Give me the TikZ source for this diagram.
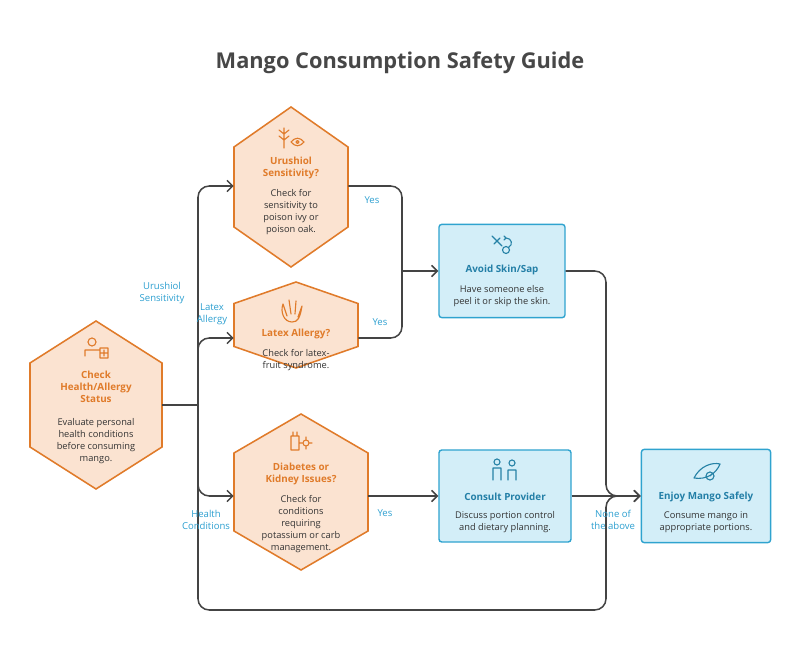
\documentclass[tikz,border=0pt]{standalone}
\usepackage{fontspec}
\setmainfont{Open Sans}
\usetikzlibrary{positioning,calc,arrows.meta}
\definecolor{hexfill}{HTML}{FBE3D1}
\definecolor{hexline}{HTML}{E07B2A}
\definecolor{boxfill}{HTML}{D3EEF8}
\definecolor{boxline}{HTML}{2FA3CF}
\definecolor{linkcol}{HTML}{444444}
\definecolor{labcol}{HTML}{2C9FD0}
\definecolor{txtcol}{HTML}{333333}

\tikzset{
  hexbg/.style={draw=hexline, fill=hexfill, line width=1.1pt},
  hexnode/.style={rectangle, inner sep=0pt, align=center, text=txtcol, font=\fontsize{6.6}{8.6}\selectfont},
  head/.style={inner sep=0pt, align=center, font=\fontsize{7}{8.6}\selectfont\bfseries},
  box/.style={rectangle, rounded corners=2pt, draw=boxline, fill=boxfill, line width=1pt, align=center, inner sep=0pt},
  link/.style={draw=linkcol, line width=1.1pt, rounded corners=8pt},
  arrow/.style={link, -{Straight Barb[length=4pt,width=8pt]}},
  lab/.style={text=labcol, align=center, font=\fontsize{6.8}{8.6}\selectfont},
  icon/.style={draw=hexline, line width=0.8pt, line cap=round, line join=round},
  bicon/.style={draw=boxline!80!black, line width=0.8pt, line cap=round, line join=round}
}
% hexagon: center x, center y, half width, half height
\newcommand{\hexa}[4]{\path[hexbg] (#1,#2-#4) -- (#1+#3,#2-#4/2) -- (#1+#3,#2+#4/2) -- (#1,#2+#4) -- (#1-#3,#2+#4/2) -- (#1-#3,#2-#4/2) -- cycle;}

\begin{document}
\begin{tikzpicture}[x=0.025cm, y=-0.025cm]
    \useasboundingbox (0,0) rectangle (801,661);

    \node (title) at (400,63) {\fontsize{15.5}{18}\selectfont\bfseries\color{txtcol!90!white}Mango Consumption Safety Guide};

    % hexagons
    \hexa{96}{405}{66}{84}
    \hexa{291}{187}{57}{80}
    \hexa{296}{325}{62}{43}
    \hexa{301}{492}{67}{78}

    \node (check) [hexnode, minimum width=3.3cm, minimum height=2cm] at (96,405) {};
    \node[head, text=hexline] at (96,387) {Check\\Health/Allergy\\Status};
    \node [hexnode] at (96,441) {Evaluate personal\\health conditions\\before consuming\\mango.};

    \node (urushiol) [hexnode, minimum width=2.85cm, minimum height=2cm] at (291,186) {};
    \node[head, text=hexline] at (291,168) {Urushiol\\Sensitivity?};
    \node [hexnode] at (291,212) {Check for\\sensitivity to\\poison ivy or\\poison oak.};

    \node (latex) [hexnode, minimum width=3.1cm, minimum height=1.2cm] at (296,338) {};
    \node[head, text=hexline] at (296,334) {Latex Allergy?};
    \node [hexnode] at (296,360) {Check for latex-\\fruit syndrome.};

    \node (diabetes) [hexnode, minimum width=3.35cm, minimum height=2cm] at (301,496) {};
    \node[head, text=hexline] at (301,474) {Diabetes or\\Kidney Issues?};
    \node [hexnode] at (301,524) {Check for\\conditions\\requiring\\potassium or carb\\management.};

    % boxes
    \node (avoid) [box, minimum width=3.15cm, minimum height=2.33cm] at (502,271) {};
    \node[head, text=labcol!80!black] at (502,270) {Avoid Skin/Sap};
    \node [hexnode] at (502,296) {Have someone else\\peel it or skip the skin.};

    \node (consult) [box, minimum width=3.3cm, minimum height=2.3cm] at (505,496) {};
    \node[head, text=labcol!80!black] at (505,497) {Consult Provider};
    \node [hexnode] at (505,522) {Discuss portion control\\and dietary planning.};

    \node (enjoy) [box, minimum width=3.23cm, minimum height=2.33cm] at (706,496) {};
    \node[head, text=labcol!80!black] at (706,497) {Enjoy Mango Safely};
    \node [hexnode] at (706,522) {Consume mango in\\appropriate portions.};

    % icons
    \draw[icon] (92,342) circle (4) (85,356) -- (85,350) -- (99,350) (100,348) rectangle (108,358) (104,350) -- (104,356) (101,353) -- (107,353);
    \draw[icon] (284,128) -- (284,148) (284,134) -- (279,130) (284,140) -- (279,136) (284,134) -- (289,130) (284,140) -- (289,136) (291,142) .. controls (295,137) and (300,137) .. (304,142) .. controls (300,147) and (295,147) .. (291,142) (297.5,142) circle (1.5);
    \draw[icon] (287,316) -- (283,304) (291,314) -- (289,300) (295,314) -- (296,301) (298,317) -- (302,306) (283,304) .. controls (280,312) and (284,322) .. (292,322) .. controls (298,322) and (300,318) .. (302,306);
    \draw[icon] (291,436) rectangle (299,450) (293,436) -- (293,432) (297,436) -- (297,432) (306,443) circle (3) (306,437) -- (306,439) (306,447) -- (306,449) (300,443) -- (302,443) (310,443) -- (312,443);
    \draw[bicon] (492,236) -- (502,246) (494,244) -- (500,238) (506,250) circle (3.5) (506,238) .. controls (512,238) and (513,245) .. (509,247) (504,236) -- (506,238) -- (504,240);
    \draw[bicon] (497,462) circle (3) (493,480) -- (493,468) -- (501,468) -- (501,480) (512,463) circle (3) (508,480) -- (508,470) -- (516,470) -- (516,480);
    \draw[bicon] (694,478) .. controls (700,466) and (712,462) .. (720,464) .. controls (716,474) and (706,480) .. (694,478) (710,476) circle (4) (710,476) -- (712,474);

    % connectors
    \coordinate (split) at (198,405);
    \draw[link] (check.east) -- (split);
    \draw[arrow] (split) |- (urushiol.west);
    \draw[arrow] (split) |- (latex.west);
    \draw[arrow] (split) |- (diabetes.west);
    \draw[arrow] (split) -- (198,610) -- (606,610) |- (enjoy.west);

    \coordinate (merge) at (402,271);
    \draw[link] (urushiol.east) -| (merge);
    \draw[link] (latex.east) -| (merge);
    \draw[arrow] (merge) -- (avoid.west);
    \draw[arrow] (avoid.east) -- (606,271) |- (enjoy.west);
    \draw[arrow] (diabetes.east) -- (consult.west);
    \draw[arrow] (consult.east) -- (enjoy.west);

    % labels
    \node[lab] at (162,293) {Urushiol\\Sensitivity};
    \node[lab] at (212,314) {Latex\\Allergy};
    \node[lab] at (206,520) {Health\\Conditions};
    \node[lab] at (613,520) {None of\\the above};
    \node[lab] at (372,200) {Yes};
    \node[lab] at (380,322) {Yes};
    \node[lab] at (385,513) {Yes};
\end{tikzpicture}
\end{document}
